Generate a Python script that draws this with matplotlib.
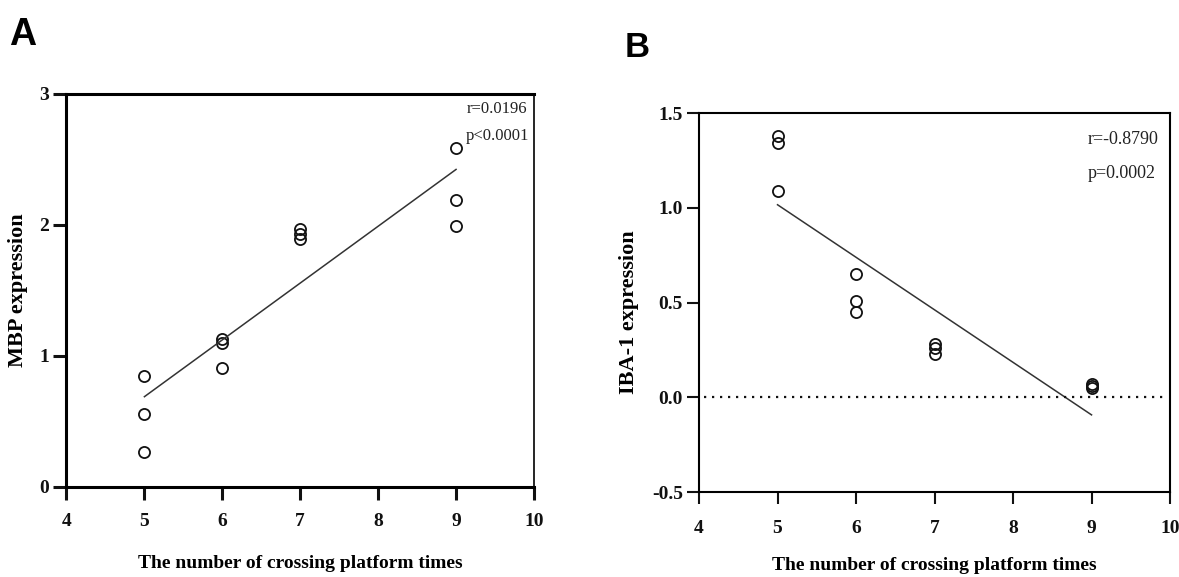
import numpy as np
import matplotlib
matplotlib.use("Agg")
import matplotlib.pyplot as plt

# panel A: MBP expression vs crossings
mbp_x = [5, 5, 5, 6, 6, 6, 7, 7, 7, 9, 9, 9]
mbp_y = [0.85, 0.56, 0.27, 1.13, 1.10, 0.91, 1.97, 1.93, 1.89, 2.59, 2.19, 1.99]
mbp_stats = ["r=0.0196", "p<0.0001"]

# panel B: IBA-1 expression vs crossings
iba_x = [5, 5, 5, 6, 6, 6, 7, 7, 7, 9, 9, 9]
iba_y = [1.38, 1.34, 1.09, 0.65, 0.51, 0.45, 0.28, 0.23, 0.26, 0.06, 0.07, 0.05]
iba_stats = ["r=-0.8790", "p=0.0002"]

x_ticks = [4, 5, 6, 7, 8, 9, 10]
mbp_yticks = [0, 1, 2, 3]
iba_yticks = [-0.5, 0.0, 0.5, 1.0, 1.5]
iba_yticklabels = ["-0.5", "0.0", "0.5", "1.0", "1.5"]

xlabel = "The number of crossing platform times"

plt.rcParams["font.family"] = ["Liberation Serif", "DejaVu Serif"]

fig = plt.figure(figsize=(11.79, 5.77), dpi=100)
ax_a = fig.add_axes([0.0564, 0.1560, 0.3965, 0.6811])
ax_b = fig.add_axes([0.5929, 0.1473, 0.3995, 0.6568])


def style_axes(ax, lw, ticklen, xpad):
    for side in ["left", "bottom", "top", "right"]:
        ax.spines[side].set_linewidth(lw)
    ax.tick_params(axis="both", width=lw, length=ticklen, labelsize=14, colors="#111111")
    ax.tick_params(axis="x", pad=xpad)
    ax.tick_params(axis="y", pad=3)
    for lab in ax.get_xticklabels() + ax.get_yticklabels():
        lab.set_fontweight("bold")


def scatter_fit(ax, xs, ys):
    xs = np.asarray(xs, dtype=float)
    ys = np.asarray(ys, dtype=float)
    ax.plot(xs, ys, "o", ms=8, mfc="none", mec="#111111", mew=1.3)
    k, b = np.polyfit(xs, ys, 1)
    xf = np.array([xs.min(), xs.max()])
    ax.plot(xf, k * xf + b, color="#333333", lw=1.1)


# A
scatter_fit(ax_a, mbp_x, mbp_y)
ax_a.set_xlim(4, 10)
ax_a.set_ylim(0, 3)
ax_a.set_xticks(x_ticks)
ax_a.set_yticks(mbp_yticks)
style_axes(ax_a, 2.2, 9.5, 9)
ax_a.spines["right"].set_linewidth(1.2)
ax_a.set_xlabel(xlabel, fontsize=14, fontweight="bold")
ax_a.set_ylabel("MBP expression", fontsize=16, fontweight="bold")
ax_a.yaxis.set_label_coords(-0.082, 0.5)
ax_a.xaxis.set_label_coords(0.5, -0.172)
ax_a.text(0.985, 0.963, mbp_stats[0], transform=ax_a.transAxes, ha="right", va="center", fontsize=12, color="#222222")
ax_a.text(0.99, 0.893, mbp_stats[1], transform=ax_a.transAxes, ha="right", va="center", fontsize=12, color="#222222")

# B
scatter_fit(ax_b, iba_x, iba_y)
ax_b.axhline(0, color="#111111", lw=1.6, ls=(0, (1, 2.6)), xmin=0.01, xmax=0.99)
ax_b.set_xlim(4, 10)
ax_b.set_ylim(-0.5, 1.5)
ax_b.set_xticks(x_ticks)
ax_b.set_yticks(iba_yticks)
ax_b.set_yticklabels(iba_yticklabels)
style_axes(ax_b, 1.5, 8.5, 12)
ax_b.set_xlabel(xlabel, fontsize=14, fontweight="bold")
ax_b.set_ylabel("IBA-1 expression", fontsize=16, fontweight="bold")
ax_b.yaxis.set_label_coords(-0.127, 0.475)
ax_b.xaxis.set_label_coords(0.5, -0.172)
ax_b.text(0.975, 0.93, iba_stats[0], transform=ax_b.transAxes, ha="right", va="center", fontsize=13, color="#222222")
ax_b.text(0.97, 0.84, iba_stats[1], transform=ax_b.transAxes, ha="right", va="center", fontsize=13, color="#222222")

fig.text(0.008, 0.94, "A", fontsize=27, fontweight="bold", family="Liberation Sans", va="center")
fig.text(0.530, 0.918, "B", fontsize=25, fontweight="bold", family="Liberation Sans", va="center")

fig.savefig("out.png", dpi=100)
